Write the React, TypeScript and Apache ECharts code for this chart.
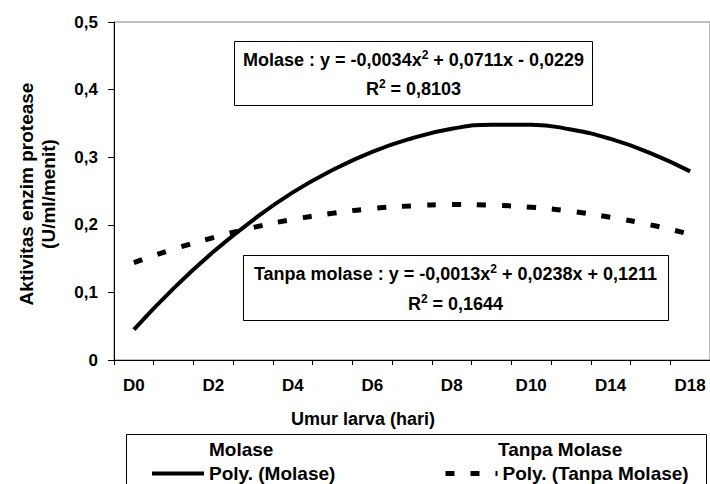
import React, { useEffect, useRef } from "react";
import * as echarts from "echarts";

const categories = ["D0", "D1", "D2", "D3", "D4", "D5", "D6", "D7", "D8", "D9", "D10", "D12", "D14", "D16", "D18"];
const polyMolase = [0.045, 0.106, 0.160, 0.207, 0.248, 0.281, 0.308, 0.328, 0.342, 0.348, 0.348, 0.341, 0.327, 0.306, 0.279];
const polyTanpa = [0.144, 0.164, 0.181, 0.196, 0.208, 0.217, 0.224, 0.228, 0.230, 0.229, 0.226, 0.220, 0.211, 0.200, 0.186];
const molaseData: number[] = [];
const tanpaData: number[] = [];
const yTicks = { min: 0, max: 0.5, interval: 0.1 };

const FONT = "'Liberation Sans', Arial, sans-serif";

export default function App() {
  const ref = useRef<HTMLDivElement>(null);
  useEffect(() => {
    if (!ref.current) return;
    const chart = echarts.init(ref.current, null, { renderer: "svg" });
    const eqRich = {
      b: { fontSize: 18, fontWeight: "bold", fontFamily: FONT, color: "#000", lineHeight: 20, verticalAlign: "bottom" },
      sup: { fontSize: 12, fontWeight: "bold", fontFamily: FONT, color: "#000", lineHeight: 20, verticalAlign: "top" },
    };
    const legendText = { fontSize: 19, fontWeight: "bold", color: "#000", fontFamily: FONT };
    const legendItem = (name: string, left: number, top: number, hidden: boolean, lineWidth: number) => ({
      left,
      top,
      padding: 0,
      orient: "horizontal",
      itemWidth: 52,
      itemHeight: 16,
      textStyle: legendText,
      data: [
        hidden
          ? { name, icon: "none", itemStyle: { opacity: 0 }, lineStyle: { opacity: 0 } }
          : { name, itemStyle: { opacity: 0 }, lineStyle: { width: lineWidth } },
      ],
    });
    chart.setOption({
      animation: false,
      backgroundColor: "#fff",
      textStyle: { fontFamily: FONT },
      grid: {
        left: 114,
        top: 22,
        width: 598,
        height: 338,
        show: true,
        borderColor: "#808080",
        borderWidth: 1,
        containLabel: false,
      },
      xAxis: {
        type: "category",
        data: categories,
        boundaryGap: true,
        axisLine: { show: true, lineStyle: { color: "#000", width: 1 } },
        axisTick: { show: true, interval: 0, length: 5, lineStyle: { color: "#000" } },
        axisLabel: { interval: 1, margin: 17, fontSize: 17, fontWeight: "bold", color: "#000", fontFamily: FONT },
        splitLine: { show: false },
      },
      yAxis: {
        type: "value",
        min: yTicks.min,
        max: yTicks.max,
        interval: yTicks.interval,
        axisLine: { show: true, lineStyle: { color: "#000", width: 1 } },
        axisTick: { show: true, length: 6, lineStyle: { color: "#000" } },
        axisLabel: {
          margin: 16,
          fontSize: 17,
          fontWeight: "bold",
          color: "#000",
          fontFamily: FONT,
          formatter: (v: number) => (v === 0 ? "0" : v.toFixed(1).replace(".", ",")),
        },
        splitLine: { show: false },
      },
      legend: [
        legendItem("Molase", 152, 440, true, 0),
        legendItem("Poly. (Molase)", 150, 464, false, 4),
        legendItem("Tanpa Molase", 441, 440, true, 0),
        legendItem("Poly. (Tanpa Molase)", 443, 464, false, 5),
      ],
      graphic: [
        {
          type: "rect",
          shape: { x: 126.5, y: 434.5, width: 580, height: 70 },
          style: { fill: "none", stroke: "#000", lineWidth: 1 },
          z: 1,
        },
        {
          type: "text",
          x: 363,
          y: 419,
          style: {
            text: "Umur larva (hari)",
            fontSize: 18,
            fontWeight: "bold",
            fontFamily: FONT,
            fill: "#000",
            align: "center",
            verticalAlign: "middle",
          },
        },
        {
          type: "text",
          x: 37,
          y: 194,
          rotation: Math.PI / 2,
          style: {
            text: "Aktivitas enzim protease\n(U/ml/menit)",
            fontSize: 19,
            lineHeight: 22,
            fontWeight: "bold",
            fontFamily: FONT,
            fill: "#000",
            align: "center",
            verticalAlign: "middle",
          },
        },
        {
          type: "rect",
          shape: { x: 234.5, y: 41.5, width: 358, height: 64 },
          style: { fill: "#fff", stroke: "#000", lineWidth: 1 },
          z: 10,
        },
        {
          type: "text",
          x: 413.5,
          y: 59,
          z: 11,
          style: {
            text: "{b|Molase : y = -0,0034x}{sup|2}{b| + 0,0711x - 0,0229}",
            rich: eqRich,
            align: "center",
            verticalAlign: "middle",
          },
        },
        {
          type: "text",
          x: 413.5,
          y: 88,
          z: 11,
          style: {
            text: "{b|R}{sup|2}{b| = 0,8103}",
            rich: eqRich,
            align: "center",
            verticalAlign: "middle",
          },
        },
        {
          type: "rect",
          shape: { x: 243.5, y: 255.5, width: 425, height: 65 },
          style: { fill: "#fff", stroke: "#000", lineWidth: 1 },
          z: 10,
        },
        {
          type: "text",
          x: 455.5,
          y: 273,
          z: 11,
          style: {
            text: "{b|Tanpa molase : y = -0,0013x}{sup|2}{b| + 0,0238x + 0,1211}",
            rich: eqRich,
            align: "center",
            verticalAlign: "middle",
          },
        },
        {
          type: "text",
          x: 455.5,
          y: 303,
          z: 11,
          style: {
            text: "{b|R}{sup|2}{b| = 0,1644}",
            rich: eqRich,
            align: "center",
            verticalAlign: "middle",
          },
        },
      ],
      series: [
        {
          name: "Molase",
          type: "line",
          data: molaseData,
          symbol: "none",
          lineStyle: { width: 0, opacity: 0 },
          itemStyle: { color: "#000" },
        },
        {
          name: "Tanpa Molase",
          type: "line",
          data: tanpaData,
          symbol: "none",
          lineStyle: { width: 0, opacity: 0 },
          itemStyle: { color: "#000" },
        },
        {
          name: "Poly. (Molase)",
          type: "line",
          data: polyMolase,
          smooth: true,
          symbol: "none",
          itemStyle: { color: "#000" },
          lineStyle: { color: "#000", width: 4, type: "solid" },
        },
        {
          name: "Poly. (Tanpa Molase)",
          type: "line",
          data: polyTanpa,
          smooth: true,
          symbol: "none",
          itemStyle: { color: "#000" },
          lineStyle: { color: "#000", width: 5, type: [9, 16], cap: "butt" },
        },
      ],
    });
    return () => chart.dispose();
  }, []);
  return (
    <div
      ref={ref}
      style={{ position: "fixed", left: 0, top: 0, width: 710, height: 484, background: "#fff" }}
    />
  );
}
